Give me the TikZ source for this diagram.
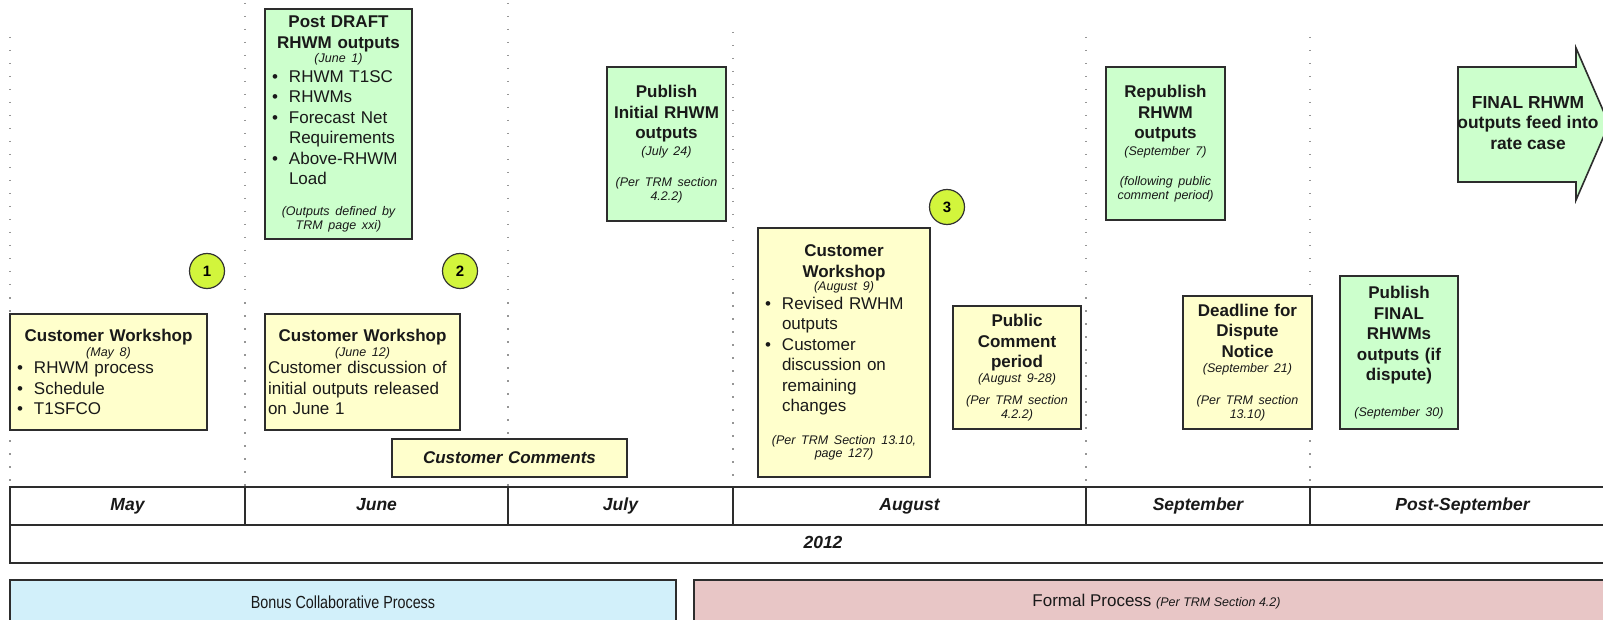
\documentclass[tikz,border=0pt]{standalone}
\usepackage{fontspec}
\setmainfont{Liberation Sans}
\newfontfamily\narrowfont[FakeStretch=0.82]{Liberation Sans}
\usetikzlibrary{positioning}

\definecolor{evyellow}{RGB}{255,255,204}
\definecolor{evgreen}{RGB}{204,255,204}
\definecolor{evline}{RGB}{45,45,45}
\definecolor{numfill}{RGB}{210,245,60}
\definecolor{bonusfill}{RGB}{210,240,250}
\definecolor{formalfill}{RGB}{232,198,198}
\definecolor{sepgray}{RGB}{150,150,150}

\newcommand{\boxfont}{\fontsize{17}{20.5}\selectfont}
\newcommand{\sit}[1]{{\fontsize{12.5}{15}\selectfont\itshape #1}}
\newcommand{\bpt}[1]{\makebox[\hsize][l]{\hspace*{7pt}\makebox[17pt][l]{\textbullet}#1}}
\newcommand{\bcont}[1]{\makebox[\hsize][l]{\hspace*{24pt}#1}}
\newcommand{\lline}[1]{\makebox[\hsize][l]{\hspace*{3pt}#1}}

\begin{document}
\begin{tikzpicture}[x=1pt,y={(0pt,-1pt)},
	evbox/.style={draw=evline,line width=1.6pt,inner sep=0pt,outer sep=0pt,anchor=north west,align=center,font=\boxfont,text=black!90},
	yelbox/.style={evbox,fill=evyellow},
	grnbox/.style={evbox,fill=evgreen},
	boxsize/.style 2 args={text width=#1pt,minimum height=#2pt},
	stepnum/.style={circle,draw=black!80,line width=1.2pt,fill=numfill,minimum size=35pt,inner sep=0pt,font=\bfseries\fontsize{15}{18}\selectfont},
	monthcell/.style={draw=evline,line width=1.4pt,fill=white,minimum height=38pt,inner sep=0pt,outer sep=0pt,anchor=north west,text height=12.5pt,text depth=3.5pt,text=black!90,font=\bfseries\itshape\fontsize{17.5}{20}\selectfont},
	procbar/.style={draw=evline,line width=1.2pt,minimum height=44pt,inner sep=0pt,outer sep=0pt,anchor=north west,text=black!90,font=\fontsize{17}{20}\selectfont},
	monthsep/.style={sepgray,line width=1.5pt,dash pattern=on 1.5pt off 11.5pt}]
	\useasboundingbox[fill=white] (0,0) rectangle (1603,620);
	\clip (0,0) rectangle (1603,620);

	% month table
	\node[monthcell,minimum width=235pt]                 (may)     at (10,487) {May};
	\node[monthcell,minimum width=263pt,right=0pt of may]  (june)    {June};
	\node[monthcell,minimum width=225pt,right=0pt of june] (july)    {July};
	\node[monthcell,minimum width=353pt,right=0pt of july] (aug)     {August};
	\node[monthcell,minimum width=224pt,right=0pt of aug]  (sep)     {September};
	\node[monthcell,minimum width=305pt,right=0pt of sep]  (postsep) {Post-September};
	\node[monthcell,minimum width=1626pt,below=0pt of may.south west,anchor=north west] (year) {2012};

	% dotted month separators
	\foreach \xpos/\ytop in {10/37,245/3,508/3,733/32,1086/37,1310/37}
		\draw[monthsep] (\xpos,\ytop) -- (\xpos,\ytop |- may.north);

	% events
	\node[grnbox,boxsize={147}{230}] (draft) at (265,9)
		{\textbf{Post DRAFT}\\ \textbf{RHWM outputs}\\[-6pt] \sit{(June 1)}\\[-1pt]
		 \bpt{RHWM T1SC}\\ \bpt{RHWMs}\\ \bpt{Forecast Net}\\ \bcont{Requirements}\\
		 \bpt{Above-RHWM}\\ \bcont{Load}\\[10pt] \sit{(Outputs defined by}\\[-6pt] \sit{TRM page xxi)}};
	\node[yelbox,boxsize={197}{116}] (ws1) at (10,314)
		{\textbf{Customer Workshop}\\[-6pt] \sit{(May 8)}\\[-3pt]
		 \bpt{RHWM process}\\ \bpt{Schedule}\\ \bpt{T1SFCO}};
	\node[yelbox,boxsize={195}{116},below=75pt of draft.south west,anchor=north west] (ws2)
		{\textbf{Customer Workshop}\\[-6pt] \sit{(June 12)}\\[-3pt]
		 \lline{Customer discussion of}\\ \lline{initial outputs released}\\ \lline{on June 1}};
	\node[yelbox,boxsize={235}{38}] (comments) at (392,439) {\textbf{\itshape Customer Comments}};
	\node[grnbox,boxsize={119}{154}] (initial) at (607,67)
		{\textbf{Publish}\\ \textbf{Initial RHWM}\\ \textbf{outputs}\\[-4pt] \sit{(July 24)}\\[11pt]
		 \sit{(Per TRM section}\\[-7pt] \sit{4.2.2)}};
	\node[yelbox,boxsize={172}{249}] (ws3) at (758,228)
		{\textbf{Customer}\\ \textbf{Workshop}\\[-7pt] \sit{(August 9)}\\[-2pt]
		 \bpt{Revised RWHM}\\ \bcont{outputs}\\ \bpt{Customer}\\ \bcont{discussion on}\\
		 \bcont{remaining}\\ \bcont{changes}\\[12pt] \sit{(Per TRM Section 13.10,}\\[-7pt] \sit{page 127)}};
	\node[yelbox,boxsize={128}{123}] (public) at (953,306)
		{\textbf{Public}\\ \textbf{Comment}\\ \textbf{period}\\[-6pt] \sit{(August 9-28)}\\[2pt]
		 \sit{(Per TRM section}\\[-7pt] \sit{4.2.2)}};
	\node[grnbox,boxsize={119}{153}] (republish) at (1106,67)
		{\textbf{Republish}\\ \textbf{RHWM}\\ \textbf{outputs}\\[-4pt] \sit{(September 7)}\\[10pt]
		 \sit{(following public}\\[-7pt] \sit{comment period)}};
	\node[yelbox,boxsize={129}{133}] (deadline) at (1183,296)
		{\textbf{Deadline for}\\ \textbf{Dispute}\\ \textbf{Notice}\\[-5pt] \sit{(September 21)}\\[11pt]
		 \sit{(Per TRM section}\\[-6pt] \sit{13.10)}};
	\node[grnbox,boxsize={118}{153}] (final) at (1340,276)
		{\textbf{Publish}\\ \textbf{FINAL}\\ \textbf{RHWMs}\\ \textbf{outputs (if}\\ \textbf{dispute)}\\[15pt]
		 \sit{(September 30)}};

	% rate case arrow
	\draw[draw=evline,line width=1.6pt,fill=evgreen] (1458,67) -- (1576,67) -- (1576,48) -- (1609,124)
		-- (1576,200) -- (1576,182) -- (1458,182) -- cycle;
	\node[font=\fontsize{17.4}{20.5}\selectfont\bfseries,align=center,text=black!90] (ratecase) at (1528,123)
		{FINAL RHWM\\outputs feed into\\rate case};

	% numbered steps
	\node[stepnum] (step1) at (207,271) {1};
	\node[stepnum] (step2) at (460,271) {2};
	\node[stepnum] (step3) at (947,207) {3};

	% process bars
	\node[procbar,fill=bonusfill,minimum width=666pt] (bonus) at (10,580)
		{\narrowfont\fontsize{17.5}{20}\selectfont Bonus Collaborative Process};
	\node[procbar,fill=formalfill,minimum width=925pt,right=18pt of bonus] (formal)
		{Formal Process \sit{(Per TRM Section 4.2)}};
\end{tikzpicture}
\end{document}
